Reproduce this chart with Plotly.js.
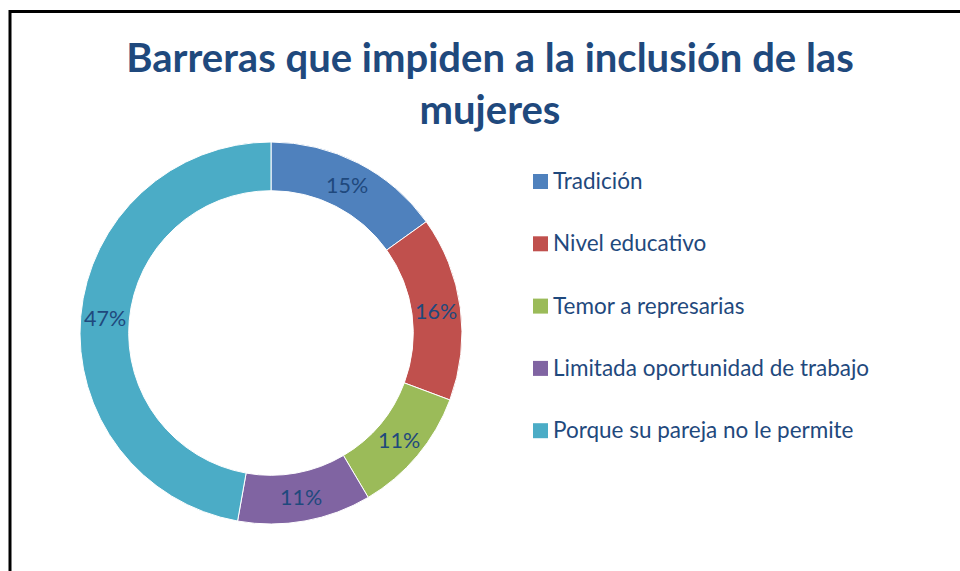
<!DOCTYPE html>
<html>
<head>
<meta charset="utf-8">
<script src="https://cdn.plot.ly/plotly-3.0.1.min.js"></script>
<style>html,body{margin:0;padding:0;background:#fff;}#chart{width:960px;height:571px;}</style>
</head>
<body>
<div id="chart"></div>
<script>
const categories = ["Tradición", "Nivel educativo", "Temor a represarias", "Limitada oportunidad de trabajo", "Porque su pareja no le permite"];
const values = [15.1, 15.6, 10.8, 11.3, 47.2];
const colors = ["#4f81bd", "#c0504d", "#9bbb59", "#8064a2", "#4bacc6"];
const titleText = "Barreras que impiden a la inclusión de las<br>mujeres";

const textColor = "#1f497d";
const fontFam = "Lato, 'Open Sans', sans-serif";
const W = 960, H = 571;

// pie geometry (domain)
const dom = {x: [80/W, 462/W], y: [47/H, 429/H]};
const hole = 0.745;

const trace = {
  type: "pie",
  labels: categories,
  values: values,
  hole: hole,
  sort: false,
  direction: "clockwise",
  rotation: 0,
  marker: {colors: colors, line: {color: "#ffffff", width: 1}},
  textinfo: "none",
  domain: dom,
  showlegend: false,
  hoverinfo: "label+percent"
};

const shapes = [
  {type: "path", xref: "paper", yref: "paper",
   path: `M ${10/W} 0 L ${10/W} ${1-11.5/H} L 1 ${1-11.5/H}`,
   line: {color: "#000", width: 3}}
];
const annotations = [];

// Data labels at the middle of each ring segment, derived from values
const total = values.reduce((a, b) => a + b, 0);
const cxPx = (dom.x[0] + dom.x[1]) / 2 * W;
const cyPx = (dom.y[0] + dom.y[1]) / 2 * H;
const rOut = (dom.x[1] - dom.x[0]) * W / 2;
const rMid = rOut * (1 + hole) / 2;
let cum = 0;
values.forEach((v) => {
  const a = 2 * Math.PI * (cum + v / 2) / total;
  cum += v;
  annotations.push({xref: "paper", yref: "paper",
    x: (cxPx + rMid * Math.sin(a)) / W, y: (cyPx + rMid * Math.cos(a)) / H,
    xanchor: "center", yanchor: "middle", showarrow: false,
    text: Math.round(v / total * 100) + "%",
    font: {family: fontFam, size: 21.5, color: textColor}});
});

// Custom legend built from the arrays
const legX = 533, legY0 = 181.5, legDy = 62.3, sq = 15;
categories.forEach((c, i) => {
  const yc = legY0 + i*legDy;
  shapes.push({type: "rect", xref: "paper", yref: "paper",
    x0: legX/W, x1: (legX+sq)/W, y0: 1-(yc+sq/2)/H, y1: 1-(yc-sq/2)/H,
    fillcolor: colors[i], line: {width: 0}});
  annotations.push({xref: "paper", yref: "paper", x: (legX+sq+3)/W, y: 1-(yc-1)/H,
    xanchor: "left", yanchor: "middle", showarrow: false, text: c,
    font: {family: fontFam, size: 22.5, color: textColor}});
});

const layout = {
  width: W, height: H,
  margin: {l: 0, r: 0, t: 0, b: 0},
  paper_bgcolor: "#fff",
  title: {text: titleText, x: 490/W, xanchor: "center", y: 1-72/H, yanchor: "top", yref: "paper",
          font: {family: fontFam, size: 40, color: textColor, weight: "bold"}},
  shapes: shapes,
  annotations: annotations
};

Plotly.newPlot("chart", [trace], layout, {displayModeBar: false, staticPlot: true});
</script>
</body>
</html>
